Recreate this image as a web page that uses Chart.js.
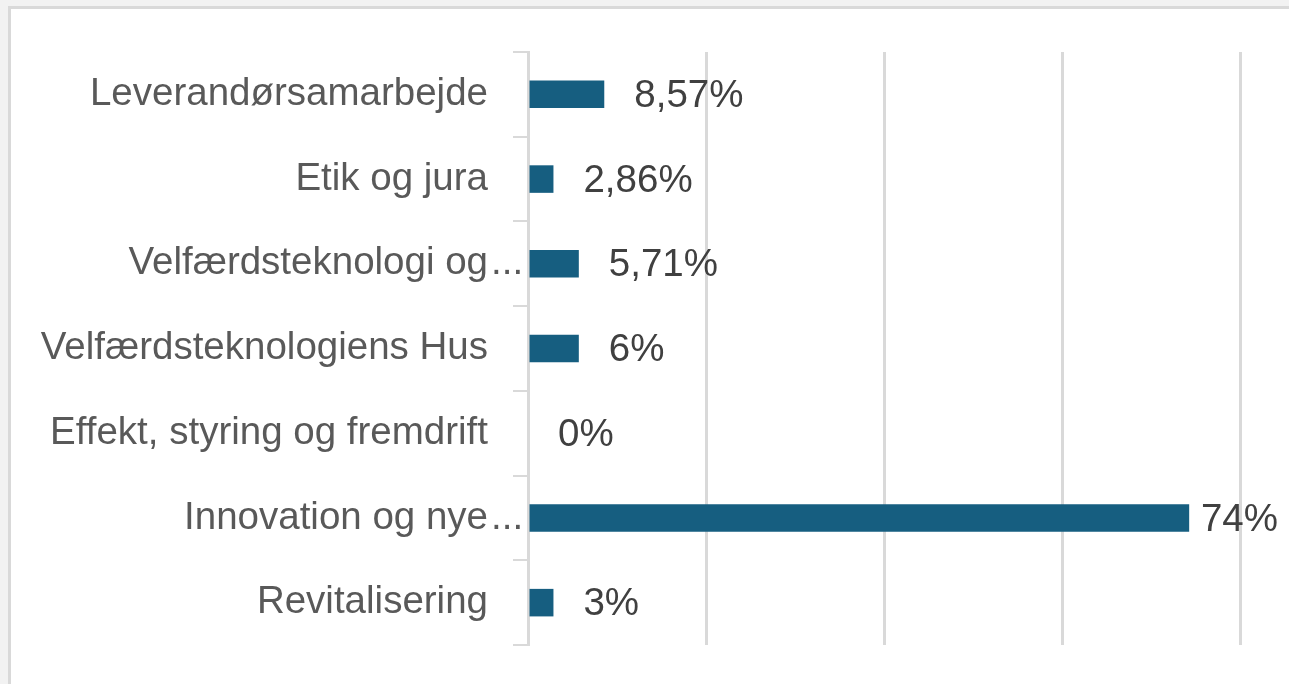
<!DOCTYPE html>
<html>
<head>
<meta charset="utf-8">
<script src="https://cdn.jsdelivr.net/npm/chart.js@4.4.1/dist/chart.umd.min.js"></script>
<style>
  html, body { margin: 0; padding: 0; background: #f2f2f2; width: 1289px; height: 684px; overflow: hidden; }
  #frame { position: absolute; left: 8px; top: 6px; width: 1300px; height: 700px; background: #ffffff;
           border-left: 3px solid #d9d9d9; border-top: 3px solid #d9d9d9; }
  #wrap { position: absolute; left: 0; top: 0; width: 1289px; height: 684px; }
</style>
</head>
<body>
<div id="frame"></div>
<div id="wrap"><canvas id="c" width="1289" height="684"></canvas></div>
<script>
const categories = [
  "Leverandørsamarbejde",
  "Etik og jura",
  "Velfærdsteknologi og...",
  "Velfærdsteknologiens Hus",
  "Effekt, styring og fremdrift",
  "Innovation og nye...",
  "Revitalisering"
];
const values = [8.57, 2.86, 5.71, 5.71, 0, 74.29, 2.86];
const valueLabels = ["8,57%", "2,86%", "5,71%", "6%", "0%", "74%", "3%"];
const xTicks = [0, 20, 40, 60, 80];

const FONT = "'Liberation Sans', Arial, sans-serif";
const FSIZE = 38.5;
const ELLIPSIS = "...";

// Truncated category names: the words are right-aligned like the others,
// and the trailing dots hang past that edge (as in the original).
const ellipsisPlugin = {
  id: 'ellipsis',
  afterDraw(chart) {
    const ctx = chart.ctx;
    const yScale = chart.scales.y;
    ctx.save();
    ctx.font = FSIZE + "px " + FONT;
    ctx.fillStyle = "#595959";
    ctx.textBaseline = "middle";
    ctx.textAlign = "left";
    const xEdge = chart.chartArea.left - 15 - 25;
    categories.forEach((c, i) => {
      if (c.endsWith(ELLIPSIS)) {
        ctx.fillText(ELLIPSIS, xEdge + 3, yScale.getPixelForValue(i));
      }
    });
    ctx.restore();
  }
};

const dataLabelPlugin = {
  id: 'dataLabels',
  afterDatasetsDraw(chart) {
    const ctx = chart.ctx;
    const meta = chart.getDatasetMeta(0);
    ctx.save();
    ctx.font = FSIZE + "px " + FONT;
    ctx.fillStyle = "#404040";
    ctx.textBaseline = "middle";
    ctx.textAlign = "left";
    meta.data.forEach((bar, i) => {
      const txt = valueLabels[i];
      const w = ctx.measureText(txt).width;
      let x = bar.x + 30;
      x = Math.min(x, chart.width - 11 - w);
      ctx.fillText(txt, x, bar.y + 2);
    });
    ctx.restore();
  }
};

new Chart(document.getElementById('c'), {
  type: 'bar',
  data: {
    labels: categories,
    datasets: [{
      data: values,
      backgroundColor: '#165e80',
      borderWidth: 0,
      categoryPercentage: 0.325,
      barPercentage: 1.0
    }]
  },
  options: {
    indexAxis: 'y',
    responsive: false,
    animation: false,
    layout: { padding: { top: 52, bottom: 39, right: 49, left: 0 } },
    plugins: { legend: { display: false }, tooltip: { enabled: false }, title: { display: false } },
    scales: {
      x: {
        min: 0, max: 80,
        afterBuildTicks(scale) { scale.ticks = xTicks.map(v => ({ value: v })); },
        ticks: { display: false },
        grid: { color: '#d9d9d9', lineWidth: 3, drawTicks: false },
        border: { display: false },
        afterFit(scale) { scale.height = 0; scale.paddingLeft = 0; scale.paddingRight = 0; }
      },
      y: {
        grid: { offset: true, drawOnChartArea: false, drawTicks: true, tickLength: 15, color: '#d9d9d9', lineWidth: 2 },
        border: { display: true, color: '#d9d9d9', width: 3 },
        ticks: {
          color: '#595959', font: { family: FONT, size: FSIZE }, padding: 25, autoSkip: false,
          callback(v, i) {
            const c = categories[i];
            return c.endsWith(ELLIPSIS) ? c.slice(0, -ELLIPSIS.length) : c;
          }
        },
        afterFit(scale) { scale.width = 528; scale.paddingTop = 0; scale.paddingBottom = 0; }
      }
    }
  },
  plugins: [dataLabelPlugin, ellipsisPlugin]
});
</script>
</body>
</html>
